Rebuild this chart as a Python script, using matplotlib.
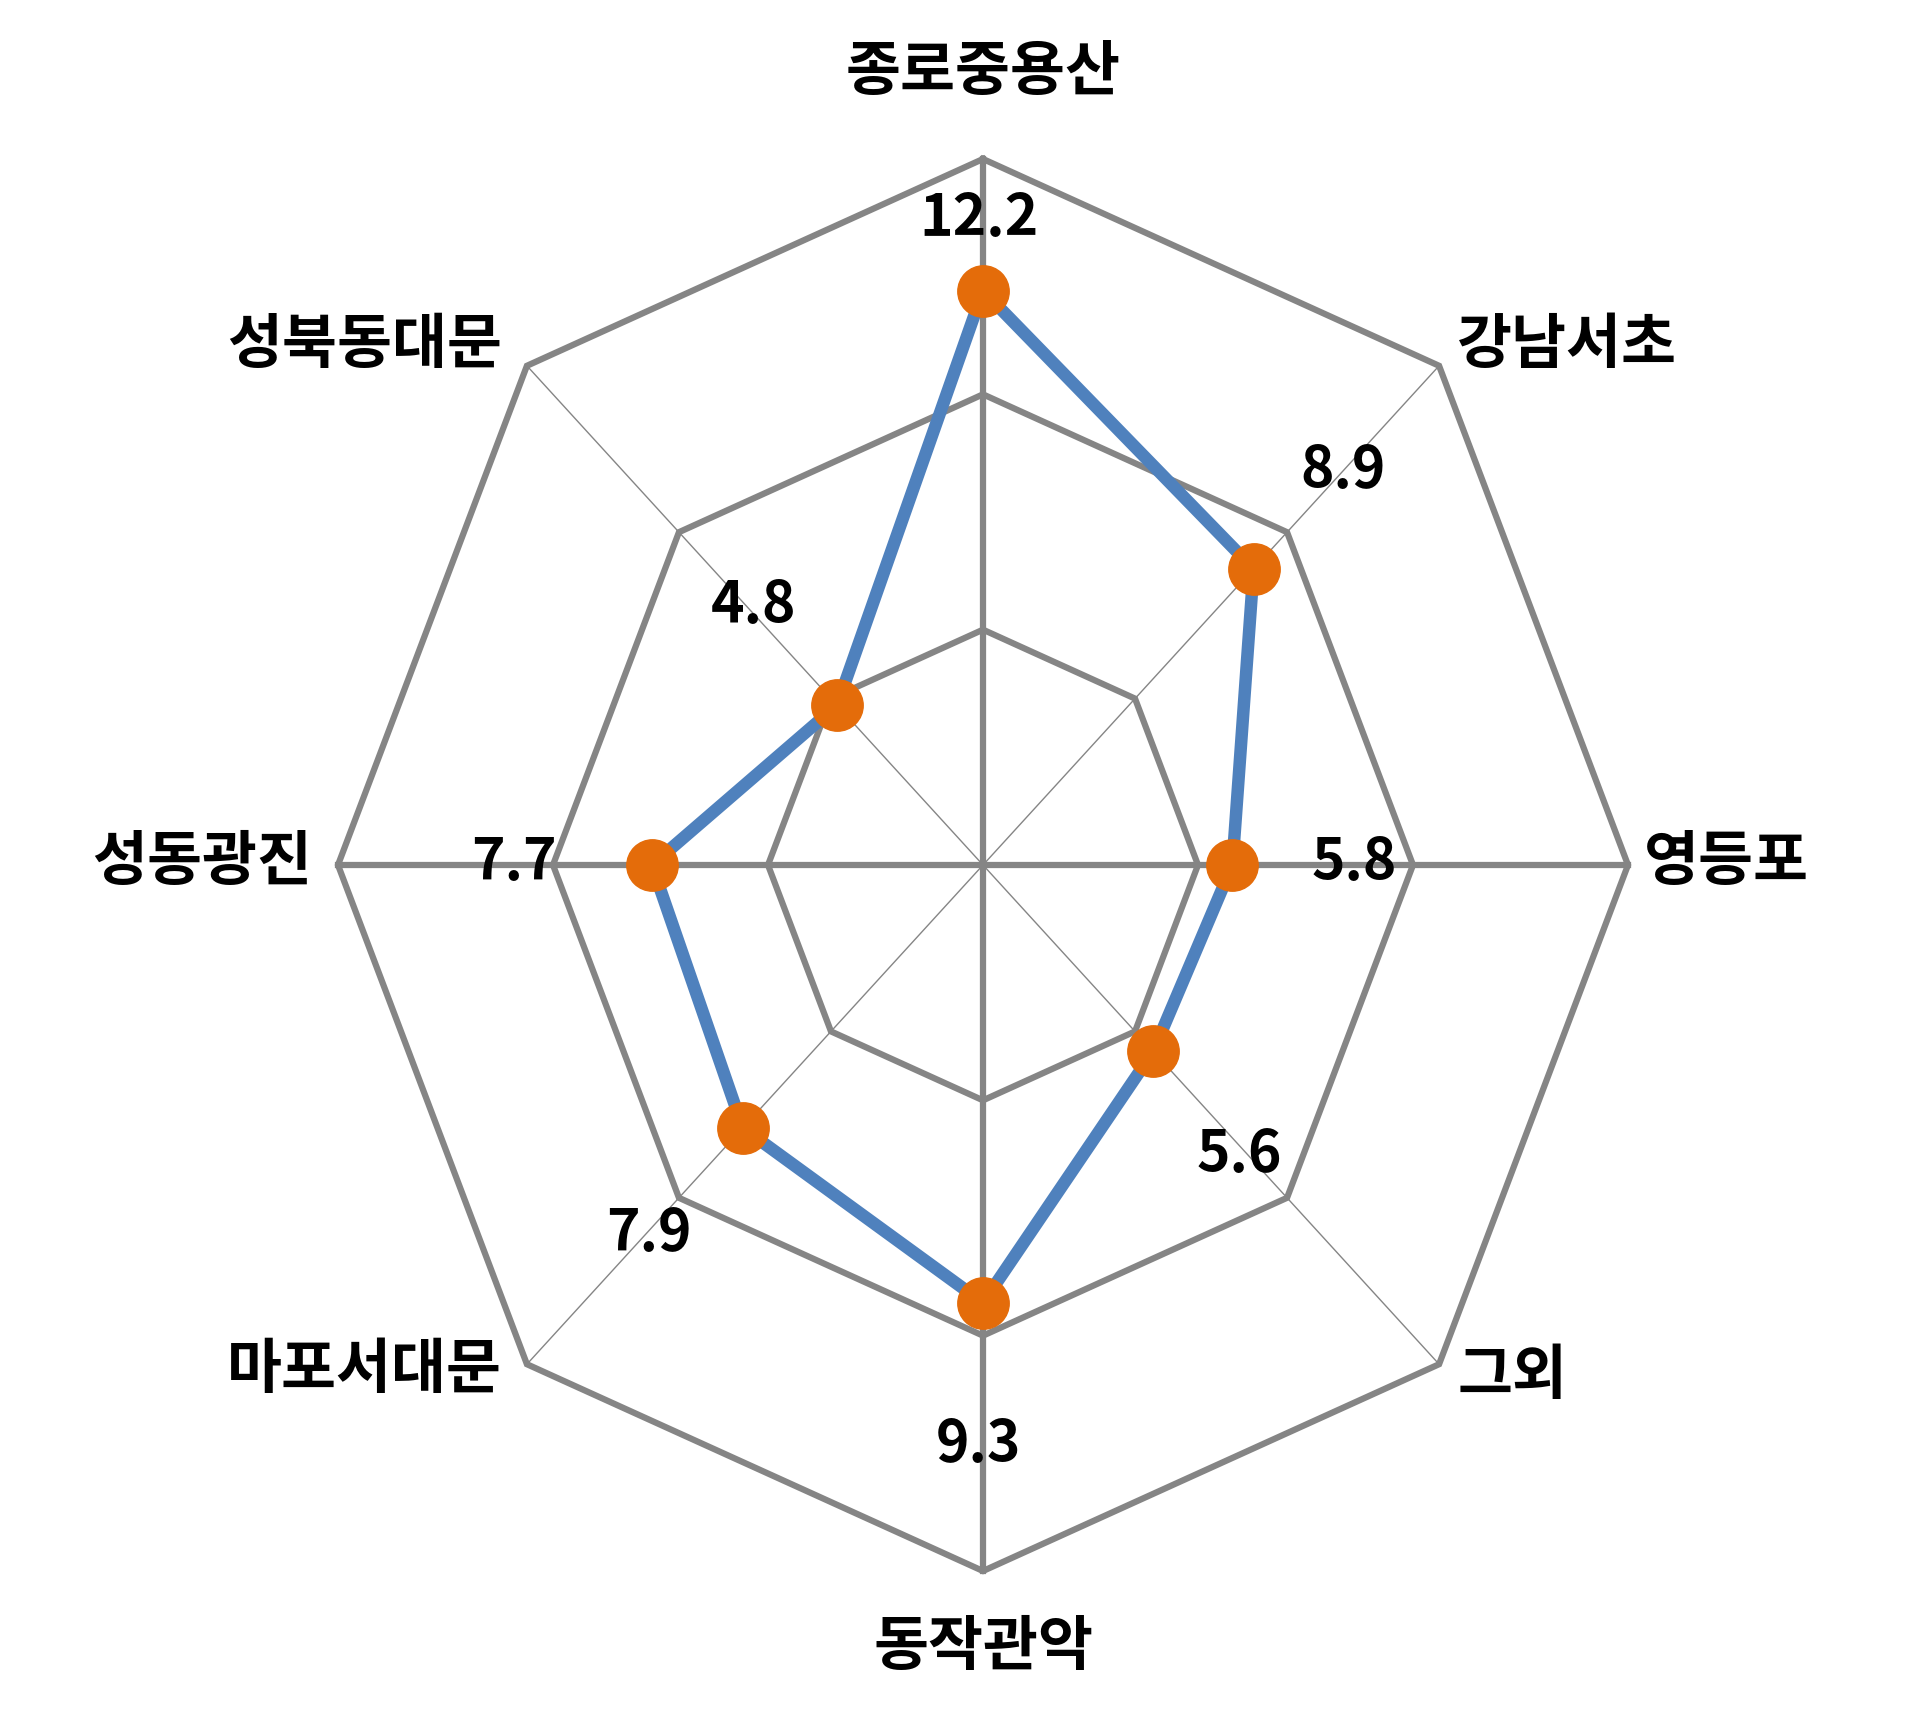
import numpy as np
import matplotlib
matplotlib.use("Agg")
import matplotlib.pyplot as plt

plt.rcParams['font.family'] = ['Noto Sans CJK KR', 'DejaVu Sans']

# ---- data ------------------------------------------------------------------
categories = ['종로중용산', '강남서초', '영등포', '그외',
              '동작관악', '마포서대문', '성동광진', '성북동대문']
values = [12.2, 8.9, 5.8, 5.6, 9.3, 7.9, 7.7, 4.8]
ring_levels = [5, 10, 15]
r_max = 15

# ---- layout (pixels on the 1920x1720 canvas) -------------------------------
W, H = 1920, 1720
CX, CY = 983, 865          # centre of the web
RX, RY = 645, 706          # outer ring half-width / half-height (chart is stretched)

# label offsets in pixels (dx, dy up), per spoke
cat_offsets = [(0, 86), (18, 20), (16, 2), (18, -13),
               (0, -77), (-25, -7), (-26, 2), (-25, 20)]
val_offsets = [(-4, 72), (89, 98), (122, 2), (86, -104),
               (-4, -142), (-94, -106), (-138, 2), (-84, 99)]

GRAY = '#858585'
BLUE = '#4F81BD'
ORANGE = '#E46C0A'

fig = plt.figure(figsize=(W / 100, H / 100), dpi=100)
ax = fig.add_axes([0, 0, 1, 1])
sx, sy = RX / r_max, RY / r_max
ax.set_xlim(-CX / sx, (W - CX) / sx)
ax.set_ylim(-(H - CY) / sy, CY / sy)
ax.axis('off')

n = len(categories)
ang = np.pi / 2 - np.arange(n) * 2 * np.pi / n   # clockwise from the top
cs, sn = np.cos(ang), np.sin(ang)

# grid rings
for lev in ring_levels:
    ax.plot(np.append(lev * cs, lev * cs[0]), np.append(lev * sn, lev * sn[0]),
            color=GRAY, lw=4.5, solid_joinstyle='miter', zorder=1)

# spokes: vertical/horizontal heavy, diagonals hairline
for i in range(n):
    ax.plot([0, r_max * cs[i]], [0, r_max * sn[i]], color=GRAY,
            lw=4.5 if i % 2 == 0 else 1.0, zorder=1)

# series
v = np.array(values)
ax.plot(np.append(v * cs, v[0] * cs[0]), np.append(v * sn, v[0] * sn[0]),
        color=BLUE, lw=9, solid_joinstyle='round', zorder=3)
ax.plot(v * cs, v * sn, 'o', color=ORANGE, ms=37, mec=ORANGE, zorder=4)

# category labels
for i, name in enumerate(categories):
    dx, dy = cat_offsets[i]
    ha = 'center' if dx == 0 else ('left' if dx > 0 else 'right')
    ax.annotate(name, (r_max * cs[i], r_max * sn[i]), xytext=(dx, dy),
                textcoords='offset pixels', ha=ha, va='center',
                fontsize=43, fontweight='bold', color='black', zorder=5)

# value labels
for i, val in enumerate(values):
    dx, dy = val_offsets[i]
    ax.annotate(f'{val:.1f}', (val * cs[i], val * sn[i]), xytext=(dx, dy),
                textcoords='offset pixels', ha='center', va='center',
                fontsize=41, fontweight='bold', color='black', zorder=5)

fig.savefig('out.png', dpi=100, facecolor='white')
